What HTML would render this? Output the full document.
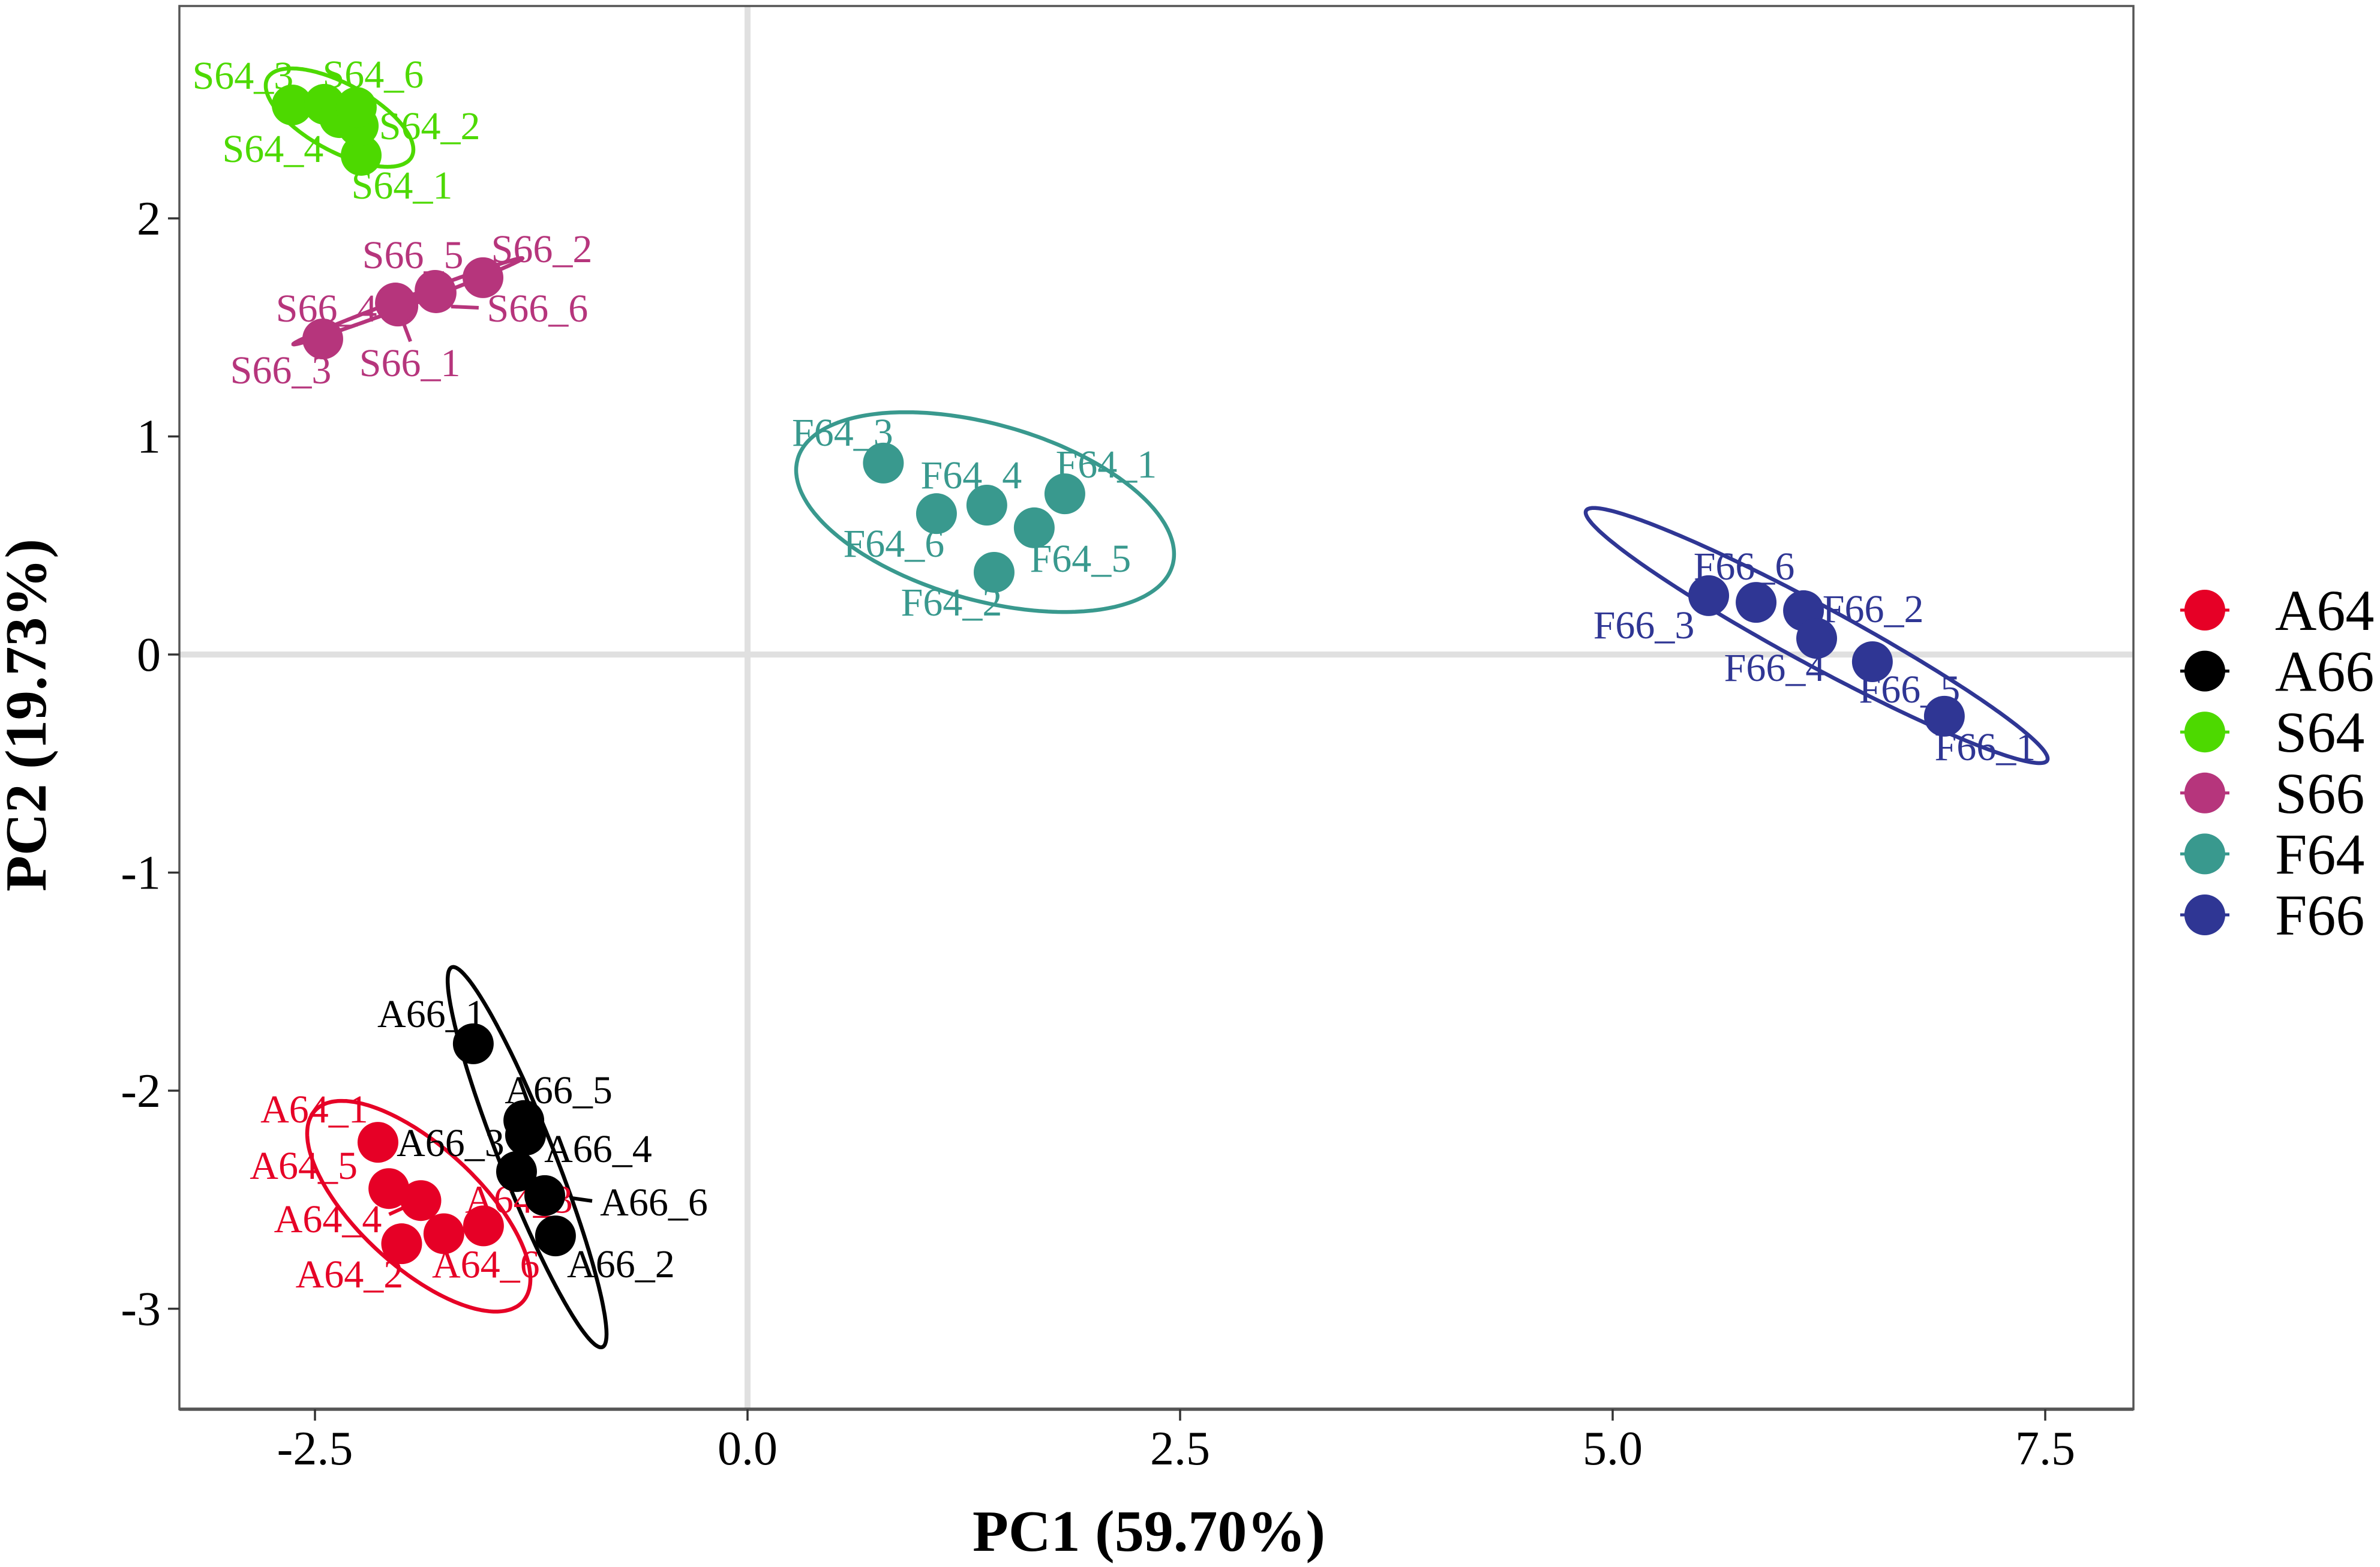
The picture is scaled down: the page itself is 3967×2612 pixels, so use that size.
<!DOCTYPE html>
<html lang="en">
<head>
<meta charset="utf-8">
<title>PCA score plot</title>
<style>
html,body{margin:0;padding:0;background:#fff;}
svg{display:block;font-family:"Liberation Serif",serif;}
</style>
</head>
<body>
<svg id="chart" xmlns="http://www.w3.org/2000/svg" width="3967" height="2612" viewBox="0 0 3967 2612"></svg>
<script>
// ---- Data (PC scores, samples 1..6 per group) ----
const groupNames = ['A64', 'A66', 'S64', 'S66', 'F64', 'F66'];
const a64X = [-2.136, -1.999, -1.526, -1.888, -2.073, -1.755];
const a64Y = [-2.237, -2.702, -2.620, -2.504, -2.449, -2.656];
const a66X = [-1.585, -1.110, -1.335, -1.283, -1.293, -1.172];
const a66Y = [-1.785, -2.666, -2.371, -2.204, -2.137, -2.481];
const s64X = [-2.233, -2.250, -2.632, -2.445, -2.358, -2.261];
const s64Y = [2.289, 2.424, 2.520, 2.523, 2.462, 2.509];
const s66X = [-2.021, -1.529, -2.455, -2.035, -1.806, -1.800];
const s66Y = [1.598, 1.728, 1.447, 1.612, 1.670, 1.659];
const f64X = [1.834, 1.425, 0.785, 1.383, 1.657, 1.092];
const f64Y = [0.737, 0.377, 0.878, 0.685, 0.581, 0.646];
const f66X = [6.917, 6.103, 5.555, 6.179, 6.501, 5.829];
const f66Y = [-0.283, 0.201, 0.270, 0.074, -0.033, 0.239];

// Confidence ellipses: centre, half-extent on each axis, correlation
const ellipseCenterX = [-1.900, -1.274, -2.358, -1.963, 1.373, 6.179];
const ellipseCenterY = [-2.530, -2.305, 2.462, 1.620, 0.653, 0.087];
const ellipseHalfX = [0.645, 0.459, 0.4265, 0.662, 1.092, 1.335];
const ellipseHalfY = [0.483, 0.872, 0.2256, 0.198, 0.458, 0.585];
const ellipseRho = [-0.69, -0.93, -0.65, 0.994, -0.42, -0.965];

const xTickValues = [-2.5, 0, 2.5, 5, 7.5];
const xTickLabels = ['-2.5', '0.0', '2.5', '5.0', '7.5'];
const yTickValues = [-3, -2, -1, 0, 1, 2];
const yTickLabels = ['-3', '-2', '-1', '0', '1', '2'];

// ---- Layout and style ----
const groupX = [a64X, a66X, s64X, s66X, f64X, f66X];
const groupY = [a64Y, a66Y, s64Y, s66Y, f64Y, f66Y];
const groupColors = ['#e60026', '#000000', '#4dd900', '#b6357c', '#39998e', '#2f3694'];
const panel = {left: 299, right: 3556, top: 10, bottom: 2349};
function xScale(v) { return 1246 + 288.4 * v; }
function yScale(v) { return 1091 - 363.5 * v; }

// Offset of each repelled label's centre from its point, in px (null = label dropped)
const labelNudges = [
  [[-106,-55],[-87,51],[59,-44],[-155,31],[-142,-38],[70,51]],
  [[-70,-50],[109,47],[-110,-48],[121,23],[58,-51],[182,11]],
  [[68,50],[119,0],[-82,-49],[-86,74],null,[28,-55]],
  [[20,95],[98,-48],[-70,52],[-115,9],[-37,-59],[169,26]],
  [[69,-49],[-71,50],[-68,-51],[-26,-50],[77,51],[-71,50]],
  [[68,51],[116,-3],[-108,49],[-70,49],[62,46],[-20,-60]]
];
// Connector stubs: group index, sample index, start and end offsets from the point
const connectors = [
  {g: 3, s: 0, from: [10, 30], to: [21, 59]},
  {g: 3, s: 5, from: [25, 23], to: [71, 25]},
  {g: 1, s: 5, from: [44, 4], to: [79, 9]},
  {g: 0, s: 3, from: [-53, 23], to: [-31, 13]}
];

const svg = document.getElementById('chart');
const NS = 'http://www.w3.org/2000/svg';
function make(tag, attrs, parent, text) {
  const el = document.createElementNS(NS, tag);
  for (const k in attrs) el.setAttribute(k, attrs[k]);
  if (text !== undefined) el.textContent = text;
  (parent || svg).appendChild(el);
  return el;
}
let el;

// Panel background
el = make('rect', {x: panel.left, y: panel.top, width: panel.right - panel.left, height: panel.bottom - panel.top, fill: '#fff'});



// Zero reference lines
el = make('line', {x1: panel.left, x2: panel.right, y1: yScale(0), y2: yScale(0), stroke: '#e0e0e0', 'stroke-width': 10});


el = make('line', {x1: xScale(0), x2: xScale(0), y1: panel.top, y2: panel.bottom, stroke: '#e0e0e0', 'stroke-width': 10});



// Ellipses
groupNames.forEach(function (name, g) {
  const delta = Math.acos(ellipseRho[g]);
  const pts = [];
  for (let i = 0; i < 240; i++) {
    const t = i / 240 * 2 * Math.PI;
    const vx = ellipseCenterX[g] + ellipseHalfX[g] * Math.cos(t);
    const vy = ellipseCenterY[g] + ellipseHalfY[g] * Math.cos(t - delta);
    pts.push(xScale(vx).toFixed(1) + ',' + yScale(vy).toFixed(1));
  }
  const ell = make('polygon', {points: pts.join(' '), fill: 'none', stroke: groupColors[g], 'stroke-width': 6.5});
  
  
});

// Connector stubs
connectors.forEach(function (c) {
  const px = xScale(groupX[c.g][c.s]);
  const py = yScale(groupY[c.g][c.s]);
  const seg = make('line', {x1: px + c.from[0], y1: py + c.from[1], x2: px + c.to[0], y2: py + c.to[1], stroke: groupColors[c.g], 'stroke-width': 6});
  
  
});

// Sample labels (beneath the points)
groupNames.forEach(function (name, g) {
  groupX[g].forEach(function (v, i) {
    const nudge = labelNudges[g][i];
    if (!nudge) return;
    const lab = make('text', {x: xScale(v) + nudge[0], y: yScale(groupY[g][i]) + nudge[1] + 22, 'text-anchor': 'middle', 'font-size': 66, fill: groupColors[g]}, svg, name + '_' + (i + 1));
    
    
  });
});

// Points
groupNames.forEach(function (name, g) {
  groupX[g].forEach(function (v, i) {
    const dot = make('circle', {cx: xScale(v), cy: yScale(groupY[g][i]), r: 34, fill: groupColors[g]});
    
    
  });
});

// Panel border
el = make('rect', {x: panel.left, y: panel.top, width: panel.right - panel.left, height: panel.bottom - panel.top, fill: 'none', stroke: '#555', 'stroke-width': 3.5});


el = make('line', {x1: panel.left, x2: panel.right, y1: panel.bottom, y2: panel.bottom, stroke: '#555', 'stroke-width': 5.5});



// X ticks
xTickValues.forEach(function (v, i) {
  const t = make('line', {x1: xScale(v), x2: xScale(v), y1: panel.bottom, y2: panel.bottom + 19, stroke: '#333', 'stroke-width': 3.5});
  
  
  const l = make('text', {x: xScale(v), y: 2441, 'text-anchor': 'middle', 'font-size': 80, fill: '#000'}, svg, xTickLabels[i]);
  
  
});

// Y ticks
yTickValues.forEach(function (v, i) {
  const t = make('line', {x1: panel.left - 19, x2: panel.left, y1: yScale(v), y2: yScale(v), stroke: '#333', 'stroke-width': 3.5});
  
  
  const l = make('text', {x: 268, y: yScale(v) + 27, 'text-anchor': 'end', 'font-size': 80, fill: '#000'}, svg, yTickLabels[i]);
  
  
});

// Axis titles
el = make('text', {x: 1915, y: 2585, 'text-anchor': 'middle', 'font-size': 98, 'font-weight': 'bold', fill: '#000'}, svg, 'PC1 (59.70%)');


el = make('text', {x: 0, y: 0, transform: 'translate(76 1192) rotate(-90)', 'text-anchor': 'middle', 'font-size': 98, 'font-weight': 'bold', fill: '#000'}, svg, 'PC2 (19.73%)');



// Legend
groupNames.forEach(function (name, g) {
  const cy = 1017 + g * 101.6;
  const key = make('line', {x1: 3634, x2: 3716, y1: cy, y2: cy, stroke: groupColors[g], 'stroke-width': 5});
  
  
  const dot = make('circle', {cx: 3675, cy: cy, r: 34, fill: groupColors[g]});
  
  
  const txt = make('text', {x: 3792, y: cy + 33, 'font-size': 96, fill: '#000'}, svg, name);
  
  
});
</script>
</body>
</html>
